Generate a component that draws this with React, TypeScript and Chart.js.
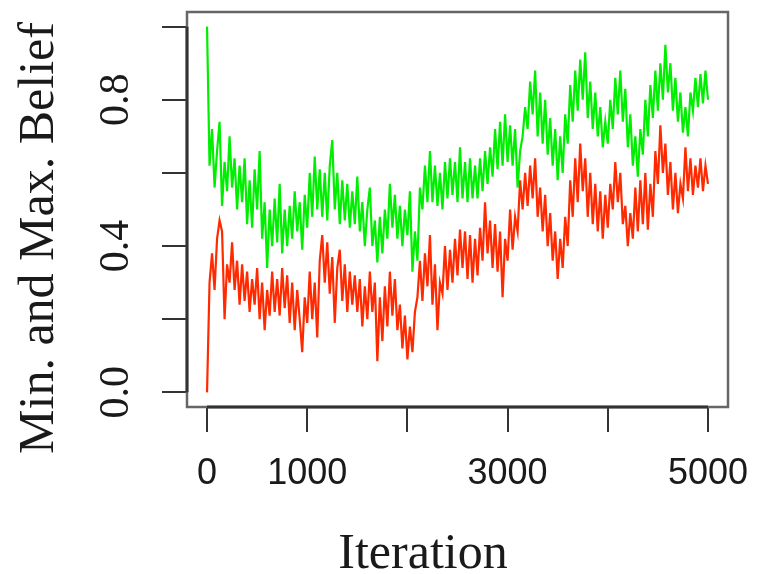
import React, { useEffect, useRef } from "react";
import { Chart, registerables } from "chart.js";

Chart.register(...registerables);

const STEP = 25;

// Max belief (green), one value every 25 iterations, 0..5000
const maxBelief = [
  1.0, 0.62, 0.72, 0.56, 0.66, 0.74, 0.51, 0.63, 0.55, 0.7,
  0.56, 0.64, 0.5, 0.62, 0.52, 0.64, 0.46, 0.58, 0.45, 0.61,
  0.5, 0.66, 0.42, 0.52, 0.34, 0.5, 0.4, 0.53, 0.41, 0.57,
  0.38, 0.5, 0.4, 0.51, 0.42, 0.55, 0.44, 0.52, 0.39, 0.54,
  0.45, 0.6, 0.48, 0.645, 0.5, 0.61, 0.48, 0.6, 0.47, 0.62,
  0.69, 0.5, 0.6, 0.46, 0.58, 0.47, 0.57, 0.45, 0.55, 0.46,
  0.59, 0.44, 0.52, 0.4, 0.5, 0.56, 0.4, 0.47, 0.355, 0.48,
  0.38, 0.5, 0.42, 0.57, 0.45, 0.54, 0.42, 0.51, 0.4, 0.5,
  0.43, 0.55, 0.33, 0.44, 0.36, 0.56, 0.5, 0.62, 0.52, 0.66,
  0.52, 0.62, 0.51, 0.6, 0.5, 0.63, 0.53, 0.64, 0.54, 0.63,
  0.52, 0.67, 0.53, 0.63, 0.52, 0.64, 0.53, 0.62, 0.53, 0.64,
  0.55, 0.66, 0.57, 0.67, 0.59, 0.72, 0.61, 0.74, 0.62, 0.76,
  0.63, 0.73, 0.62, 0.72, 0.56, 0.66, 0.7, 0.78, 0.72, 0.85,
  0.76, 0.88, 0.7, 0.82, 0.68, 0.8, 0.65, 0.75, 0.62, 0.72,
  0.58, 0.7, 0.6, 0.76, 0.68, 0.84, 0.74, 0.88, 0.77, 0.91,
  0.8, 0.93, 0.75, 0.85, 0.72, 0.82, 0.7, 0.78, 0.67, 0.74,
  0.68, 0.8, 0.72, 0.86, 0.76, 0.88, 0.74, 0.83, 0.67, 0.76,
  0.62, 0.7, 0.59, 0.72, 0.65, 0.8, 0.7, 0.84, 0.75, 0.88,
  0.77, 0.9, 0.8, 0.95, 0.82, 0.9, 0.77, 0.86, 0.74, 0.82,
  0.71, 0.78, 0.7, 0.82, 0.77, 0.86, 0.78, 0.87, 0.79, 0.88,
  0.8,
];

// Min belief (red)
const minBelief = [
  0.0, 0.3, 0.38, 0.28, 0.42, 0.47, 0.44, 0.2, 0.35, 0.3,
  0.41, 0.28, 0.36, 0.24, 0.35, 0.25, 0.33, 0.22, 0.31, 0.24,
  0.34, 0.2, 0.3, 0.17, 0.28, 0.21, 0.33, 0.22, 0.31, 0.21,
  0.34, 0.23, 0.32, 0.19, 0.3, 0.17, 0.28, 0.2, 0.11, 0.26,
  0.19, 0.33, 0.2, 0.3, 0.15, 0.36, 0.43, 0.3, 0.41, 0.27,
  0.37, 0.19, 0.34, 0.39, 0.25, 0.35, 0.22, 0.33, 0.24, 0.32,
  0.22, 0.31, 0.18, 0.29, 0.2, 0.33, 0.22, 0.3, 0.085, 0.26,
  0.14, 0.29, 0.18, 0.33, 0.21, 0.31, 0.17, 0.24, 0.12, 0.21,
  0.09, 0.18, 0.11, 0.22, 0.26, 0.36, 0.25, 0.38, 0.29, 0.43,
  0.24, 0.35, 0.17, 0.3, 0.27, 0.4, 0.28, 0.39, 0.3, 0.42,
  0.32, 0.445, 0.34, 0.44, 0.31, 0.43, 0.3, 0.42, 0.32, 0.45,
  0.36, 0.52, 0.38, 0.47, 0.34, 0.46, 0.33, 0.44, 0.26, 0.42,
  0.36, 0.5, 0.39, 0.48, 0.44, 0.58, 0.5, 0.6, 0.51, 0.62,
  0.53, 0.64, 0.48, 0.56, 0.44, 0.54, 0.4, 0.49, 0.36, 0.44,
  0.31, 0.42, 0.34, 0.48, 0.4, 0.58, 0.48, 0.64, 0.52, 0.68,
  0.55, 0.64, 0.48, 0.6, 0.46, 0.57, 0.44, 0.55, 0.42, 0.54,
  0.45, 0.57, 0.5, 0.63, 0.52, 0.6, 0.46, 0.51, 0.4, 0.49,
  0.42, 0.56, 0.44, 0.58, 0.46, 0.6, 0.445, 0.57, 0.48, 0.66,
  0.57, 0.73, 0.6, 0.68, 0.54, 0.63, 0.5, 0.6, 0.49, 0.57,
  0.53, 0.67, 0.55, 0.64, 0.54, 0.62, 0.56, 0.64, 0.55, 0.62,
  0.57,
];

const iterations = maxBelief.map((_, i) => i * STEP);

const xTickValues = [0, 1000, 2000, 3000, 4000, 5000];
const xTickLabels = ["0", "1000", "", "3000", "", "5000"];
const yTickValues = [0, 0.2, 0.4, 0.6, 0.8, 1.0];
const yTickLabels = ["0.0", "", "0.4", "", "0.8", ""];

const xTitle = "Iteration";
const yTitle = "Min. and Max. Belief";

const TEXT = "#1a1a1a";
const SERIF = '"Liberation Serif", "Times New Roman", serif';
const SANS = '"Liberation Sans", Arial, sans-serif';

const framePlugin = {
  id: "rFrame",
  afterDraw(chart: any) {
    const { ctx, chartArea: a, scales } = chart;
    const xs = scales.x;
    const ys = scales.y;
    ctx.save();
    ctx.strokeStyle = "#666";
    ctx.lineWidth = 2.5;
    ctx.strokeRect(a.left, a.top, a.right - a.left, a.bottom - a.top);
    ctx.strokeStyle = "#333";
    ctx.lineWidth = 3;
    ctx.beginPath();
    ctx.moveTo(xs.getPixelForValue(xTickValues[0]), a.bottom);
    ctx.lineTo(xs.getPixelForValue(xTickValues[xTickValues.length - 1]), a.bottom);
    ctx.moveTo(a.left, ys.getPixelForValue(yTickValues[0]));
    ctx.lineTo(a.left, ys.getPixelForValue(yTickValues[yTickValues.length - 1]));
    ctx.stroke();

    ctx.fillStyle = TEXT;
    ctx.font = `50px ${SERIF}`;
    ctx.textAlign = "center";
    ctx.textBaseline = "alphabetic";
    ctx.fillText(xTitle, 423, 568);
    ctx.translate(53, 238);
    ctx.rotate(-Math.PI / 2);
    ctx.fillText(yTitle, 0, 0);
    ctx.restore();
  },
};

export default function App() {
  const ref = useRef<HTMLCanvasElement | null>(null);

  useEffect(() => {
    if (!ref.current) return;
    const chart = new Chart(ref.current, {
      type: "line",
      data: {
        datasets: [
          {
            label: "Max. Belief",
            data: iterations.map((it, i) => ({ x: it, y: maxBelief[i] })),
            borderColor: "#00ee00",
            borderWidth: 2.2,
            pointRadius: 0,
            tension: 0,
          },
          {
            label: "Min. Belief",
            data: iterations.map((it, i) => ({ x: it, y: minBelief[i] })),
            borderColor: "#ff2a00",
            borderWidth: 2.2,
            pointRadius: 0,
            tension: 0,
          },
        ],
      },
      options: {
        animation: false,
        responsive: false,
        devicePixelRatio: 1,
        layout: { padding: { top: 12, right: 29, bottom: 0, left: 0 } },
        plugins: {
          legend: { display: false },
          tooltip: { enabled: false },
        },
        scales: {
          x: {
            type: "linear",
            min: -200,
            max: 5200,
            afterBuildTicks: (s: any) => {
              s.ticks = xTickValues.map((v) => ({ value: v }));
            },
            afterFit: (s: any) => {
              s.height = 167;
              s.paddingLeft = 0;
              s.paddingRight = 0;
            },
            ticks: {
              callback: (_v: any, i: number) => xTickLabels[i],
              autoSkip: false,
              minRotation: 0,
              maxRotation: 0,
              padding: 20,
              color: TEXT,
              font: { family: SANS, size: 36 },
            },
            grid: {
              drawOnChartArea: false,
              drawTicks: true,
              tickLength: 25,
              color: "#333",
              lineWidth: 2,
            },
            border: { display: false },
          },
          y: {
            type: "linear",
            min: -0.04,
            max: 1.04,
            afterBuildTicks: (s: any) => {
              s.ticks = yTickValues.map((v) => ({ value: v }));
            },
            afterFit: (s: any) => {
              s.width = 187;
              s.paddingTop = 0;
              s.paddingBottom = 0;
            },
            ticks: {
              callback: (_v: any, i: number) => yTickLabels[i],
              autoSkip: false,
              minRotation: 90,
              maxRotation: 90,
              crossAlign: "center",
              padding: 19,
              color: TEXT,
              font: { family: SERIF, size: 42 },
            },
            grid: {
              drawOnChartArea: false,
              drawTicks: true,
              tickLength: 25,
              color: "#333",
              lineWidth: 2,
            },
            border: { display: false },
          },
        },
      },
      plugins: [framePlugin],
    } as any);
    return () => chart.destroy();
  }, []);

  return (
    <div style={{ position: "absolute", left: 0, top: 0, width: 757, height: 574, background: "#fff" }}>
      <canvas ref={ref} width={757} height={574} style={{ display: "block", width: 757, height: 574 }} />
    </div>
  );
}
